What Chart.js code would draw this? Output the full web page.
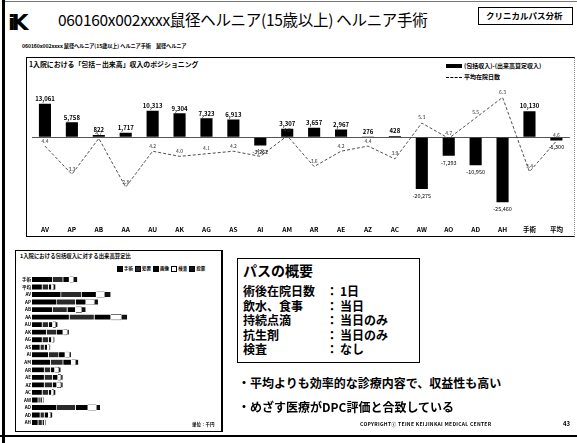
<!DOCTYPE html>
<html>
<head>
<meta charset="utf-8">
<script src="https://cdn.jsdelivr.net/npm/chart.js@4"></script>
<style>
html,body{margin:0;padding:0;background:#fff;}
body{width:577px;height:443px;position:relative;overflow:hidden;font-family:"Noto Sans CJK JP","Noto Sans",sans-serif;color:#000;}
.t{position:absolute;white-space:nowrap;line-height:1;}
.b{font-weight:bold;}
.box{position:absolute;box-sizing:border-box;}
</style>
</head>
<body>
<!-- slide frame -->
<div class="box" style="left:2px;top:0;width:3px;height:443px;background:#000;"></div>
<div class="box" style="left:5px;top:1px;width:572px;height:1px;background:#777;"></div>
<div class="box" style="left:0;top:435px;width:577px;height:2px;background:#000;"></div>

<!-- header -->
<div class="t b" style="left:8px;top:12px;font-size:22px;font-family:'DejaVu Sans',sans-serif;letter-spacing:-4px;">iK</div>
<div class="t" id="title" style="left:58px;top:12px;font-size:15.5px;letter-spacing:-0.3px;">060160x002xxxx鼠径ヘルニア(15歳以上) ヘルニア手術</div>
<div class="box" style="left:478px;top:7px;width:95px;height:18px;border:1px solid #000;"></div>
<div class="t b" style="left:486px;top:11px;font-size:8.5px;">クリニカルパス分析</div>
<div class="t b" style="left:22px;top:43px;font-size:5.2px;letter-spacing:-0.1px;">060160x002xxxx 鼠径ヘルニア(15歳以上) ヘルニア手術　鼠径ヘルニア</div>

<!-- main chart panel -->
<div class="box" style="left:26px;top:57px;width:549px;height:180px;border-top:1px solid #000;border-left:1px solid #000;border-bottom:1px solid #000;border-right:1px dotted #888;"></div>
<div class="t b" style="left:29px;top:61px;font-size:6.9px;">1入院における「包括－出来高」収入のポジショニング</div>
<div class="box" style="left:446px;top:64px;width:16px;height:4px;background:#000;"></div>
<div class="t b" style="left:464px;top:63px;font-size:6px;">(包括収入)-(出来高算定収入)</div>
<div class="box" style="left:446px;top:77px;width:16px;height:0;border-top:1px dashed #000;"></div>
<div class="t b" style="left:464px;top:74px;font-size:6px;">平均在院日数</div>
<canvas id="main" width="549" height="179" style="position:absolute;left:26px;top:57px;"></canvas>

<!-- lower-left panel -->
<div class="box" style="left:15px;top:250px;width:208px;height:182px;border:1px solid #000;border-right-width:2px;"></div>
<div class="t b" style="left:20px;top:254px;font-size:5.4px;">1入院における包括収入に対する出来高算定比</div>
<div class="t b" id="miniLegend" style="left:117px;top:266px;font-size:4.5px;"></div>
<canvas id="mini" width="205" height="158" style="position:absolute;left:16px;top:272px;"></canvas>
<div class="t b" style="left:192px;top:422px;font-size:4.5px;">単位：千円</div>

<!-- path summary -->
<div class="box" style="left:237px;top:258px;width:183px;height:105px;border:1px solid #000;"></div>
<div class="t b" style="left:243px;top:263px;font-size:14px;">パスの概要</div>
<div class="t b" style="left:243px;top:285px;font-size:12px;">術後在院日数</div><div class="t b" style="left:326px;top:285px;font-size:12px;">：</div><div class="t b" style="left:340px;top:285px;font-size:12px;">1日</div>
<div class="t b" style="left:243px;top:299.5px;font-size:12px;">飲水、食事</div><div class="t b" style="left:326px;top:299.5px;font-size:12px;">：</div><div class="t b" style="left:340px;top:299.5px;font-size:12px;">当日</div>
<div class="t b" style="left:243px;top:314px;font-size:12px;">持続点滴</div><div class="t b" style="left:326px;top:314px;font-size:12px;">：</div><div class="t b" style="left:340px;top:314px;font-size:12px;">当日のみ</div>
<div class="t b" style="left:243px;top:328.5px;font-size:12px;">抗生剤</div><div class="t b" style="left:326px;top:328.5px;font-size:12px;">：</div><div class="t b" style="left:340px;top:328.5px;font-size:12px;">当日のみ</div>
<div class="t b" style="left:243px;top:343px;font-size:12px;">検査</div><div class="t b" style="left:326px;top:343px;font-size:12px;">：</div><div class="t b" style="left:340px;top:343px;font-size:12px;">なし</div>
<div class="t b" style="left:238px;top:377px;font-size:12px;">・平均よりも効率的な診療内容で、収益性も高い</div>
<div class="t b" style="left:238px;top:401px;font-size:12px;">・めざす医療がDPC評価と合致している</div>
<div class="t b" style="left:360px;top:421px;font-size:5px;letter-spacing:0.3px;">COPYRIGHTⓒ TEINE KEIJINKAI MEDICAL CENTER</div>
<div class="t b" style="left:563px;top:421px;font-size:6px;">43</div>

<script>
const FONT = '"Noto Sans CJK JP","Noto Sans",sans-serif';

// 1入院あたり「包括－出来高」収入（円）と平均在院日数（日）
const categories = ['AV','AP','AB','AA','AU','AK','AG','AS','AI','AM','AR','AE','AZ','AC','AW','AO','AD','AH','手術','平均'];
const incomeDiff = [13061, 5758, 822, 1717, 10313, 9304, 7323, 6913, -3262, 3307, 3657, 2967, 276, 428, -20275, -7293, -10950, -25460, 10130, -1300];
const avgStay = [4.4, 3.3, 4.7, 2.8, 4.2, 4.0, 4.1, 4.2, 4.0, 4.8, 3.6, 4.2, 4.4, 3.9, 5.3, 4.7, 5.5, 6.3, 3.4, 4.6];

// 包括収入に対する出来高算定の内訳
const rowLabels = ['手術','平均','AV','AP','AB','AA','AU','AK','AG','AS','AI','AM','AR','AE','AZ','AC','AW','AO','AD','AH'];
const partNames = ['手術','処置','画像','検査','投薬'];
const partSurgery = [10, 5, 14, 12, 10, 18, 5, 7, 5, 4, 8, 9, 6, 6, 6, 5, 3, 12, 4, 3];
const partProcedure = [5, 3, 10, 9, 7, 12, 3, 5, 3, 2, 5, 6, 3, 4, 4, 3, 1, 9, 2, 2];
const partImaging = [3, 1.5, 7, 5, 4, 8, 2, 3, 1.5, 1.5, 3, 4, 2, 2.5, 2, 1.5, 1, 6, 2, 1];
const partExam = [2, 1, 4, 4, 3, 5, 1.5, 2, 1, 1, 2, 2, 2, 1.5, 2, 1, 0.5, 4, 1, 0.5];
const partDrug = [2, 1, 3, 2, 2, 3, 1, 1, 0.5, 0.5, 1, 1.5, 1, 1, 1, 1, 0.5, 2, 1, 0.5];

const fmt = v => v.toLocaleString('en-US');

// value labels for bars and the stay line
const valueLabels = {
  id: 'valueLabels',
  afterDatasetsDraw(chart) {
    const ctx = chart.ctx;
    ctx.save();
    ctx.fillStyle = '#000';
    ctx.textAlign = 'center';
    const bars = chart.getDatasetMeta(0).data;
    bars.forEach((el, i) => {
      const v = incomeDiff[i];
      if (v >= 0) {
        ctx.font = 'bold 6px ' + FONT;
        ctx.textBaseline = 'bottom';
        ctx.fillText(fmt(v), el.x, el.y - 2);
      } else {
        ctx.font = '5.5px ' + FONT;
        ctx.textBaseline = 'top';
        ctx.fillText(fmt(v), el.x, el.y + 4);
      }
    });
    const pts = chart.getDatasetMeta(1).data;
    ctx.font = '5px ' + FONT;
    ctx.textBaseline = 'bottom';
    ctx.fillStyle = '#333';
    pts.forEach((el, i) => {
      ctx.fillText(avgStay[i].toFixed(1), el.x, el.y - 3);
    });
    ctx.restore();
  }
};

new Chart(document.getElementById('main'), {
  data: {
    labels: categories,
    datasets: [
      { type: 'bar', data: incomeDiff, backgroundColor: '#000', yAxisID: 'y',
        categoryPercentage: 0.5, barPercentage: 0.9, order: 2 },
      { type: 'line', data: avgStay, yAxisID: 'y1', borderColor: '#222', borderWidth: 0.8,
        borderDash: [3, 2], pointRadius: 0, tension: 0, order: 1 }
    ]
  },
  options: {
    responsive: false,
    animation: false,
    layout: { padding: { left: 5.5, right: 4.5, top: 34, bottom: 0 } },
    plugins: { legend: { display: false }, tooltip: { enabled: false } },
    scales: {
      x: {
        grid: { display: false, drawTicks: false },
        border: { display: false },
        ticks: { padding: 12, color: '#000', maxRotation: 0, autoSkip: false,
                 font: { size: 6.5, weight: 'bold', family: FONT } },
        afterFit: s => { s.height = 22; }
      },
      y: {
        min: -30000, max: 18000,
        ticks: { display: false, stepSize: 6000 },
        grid: { color: c => c.tick.value === 0 ? '#555' : 'rgba(0,0,0,0)', drawTicks: false, lineWidth: 1 },
        border: { display: false },
        afterFit: s => { s.width = 0; }
      },
      y1: { display: false, min: 1.75, max: 6.55 }
    }
  },
  plugins: [valueLabels]
});

// small legend of the breakdown chart
const partColors = ['#000', '#2a2a2a', '#000', '#fff', '#111'];
document.getElementById('miniLegend').innerHTML = partNames.map((n, i) =>
  '<span style="display:inline-block;width:4px;height:4px;background:' + partColors[i] +
  ';border:0.5px solid #000;vertical-align:middle;margin-right:1px;"></span>' + n
).join('&nbsp;&nbsp;');

const partSeries = [partSurgery, partProcedure, partImaging, partExam, partDrug];
new Chart(document.getElementById('mini'), {
  type: 'bar',
  data: {
    labels: rowLabels,
    datasets: partSeries.map((d, i) => ({
      label: partNames[i], data: d,
      backgroundColor: partColors[i],
      borderColor: i === 3 ? '#000' : '#fff',
      borderWidth: 0.6,
      categoryPercentage: 0.85, barPercentage: 0.95
    }))
  },
  options: {
    indexAxis: 'y',
    responsive: false,
    animation: false,
    layout: { padding: { left: 0, right: 6, top: 2.2, bottom: 3.2 } },
    plugins: { legend: { display: false }, tooltip: { enabled: false } },
    scales: {
      x: { stacked: true, min: 0, max: 88, display: false },
      y: {
        stacked: true,
        grid: { display: false, drawTicks: false },
        border: { display: false },
        ticks: { padding: 1, color: '#000', autoSkip: false, font: { size: 4.5, weight: 'bold', family: FONT } },
        afterFit: s => { s.width = 16; }
      }
    }
  }
});
</script>
</body>
</html>
